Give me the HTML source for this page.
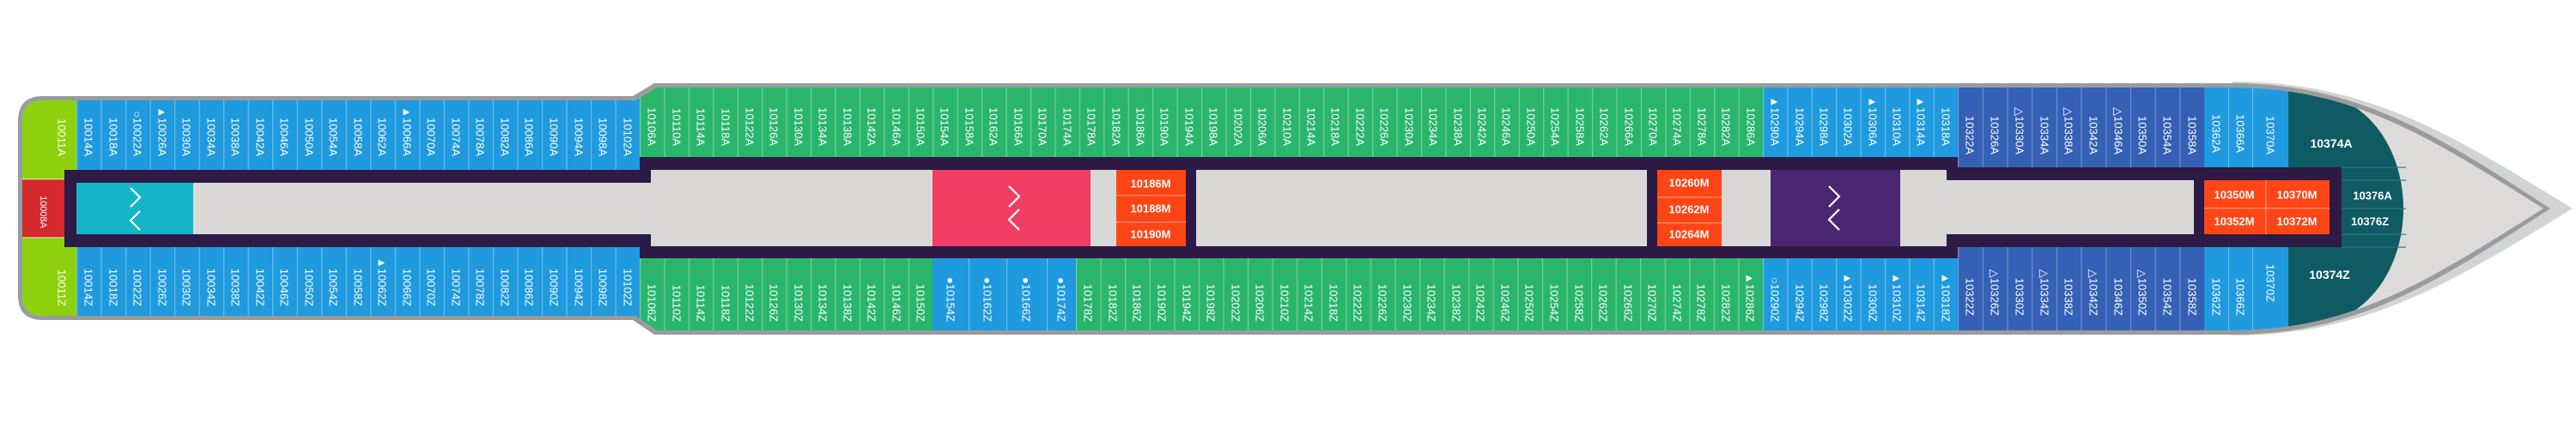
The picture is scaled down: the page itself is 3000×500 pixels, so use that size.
<!DOCTYPE html>
<html><head><meta charset="utf-8"><style>
html,body{margin:0;padding:0;background:#fff;}
svg{display:block;}
text{font-family:"Liberation Sans",sans-serif;fill:#fff;}
.v{font-size:13px;dominant-baseline:central;text-anchor:end;}
.o{font-size:13px;font-weight:bold;text-anchor:middle;dominant-baseline:central;}
</style></head><body>
<svg width="3000" height="500" viewBox="0 0 3000 500" xmlns="http://www.w3.org/2000/svg">
<defs>
<clipPath id="hc"><path d="M50,117 L740,117 L765,102 L2600,102 C2740,102 2830,160 2962,243 C2830,326 2740,385 2600,385 L765,385 L740,368 L50,368 Q26,368 26,344 L26,141 Q26,117 50,117 Z"/></clipPath>
<pattern id="p1" x="89" y="0" width="28.52" height="500" patternUnits="userSpaceOnUse"><rect x="0" y="0" width="1.2" height="500" fill="rgba(255,255,255,0.35)"/></pattern>
<pattern id="p2" x="745" y="0" width="28.435" height="500" patternUnits="userSpaceOnUse"><rect x="0" y="0" width="1.2" height="500" fill="rgba(255,255,255,0.35)"/></pattern>
<pattern id="p3" x="1253" y="0" width="28.571" height="500" patternUnits="userSpaceOnUse"><rect x="0" y="0" width="1.2" height="500" fill="rgba(255,255,255,0.35)"/></pattern>
<pattern id="p4" x="2053" y="0" width="28.375" height="500" patternUnits="userSpaceOnUse"><rect x="0" y="0" width="1.2" height="500" fill="rgba(255,255,255,0.35)"/></pattern>
<pattern id="p5" x="2280" y="0" width="28.7" height="500" patternUnits="userSpaceOnUse"><rect x="0" y="0" width="1.2" height="500" fill="rgba(255,255,255,0.3)"/></pattern>
</defs>
<!-- bow outer light -->
<path d="M2600,95 C2760,95 2860,160 2996,243 C2860,326 2760,391 2600,391 Z" fill="#d2d3d4"/>
<!-- hull outline -->
<path d="M50,112 L737,112 L762,97 L2600,97 C2745,97 2840,158 2970,243 C2840,328 2745,390 2600,390 L762,390 L737,373 L50,373 Q21,373 21,344 L21,141 Q21,112 50,112 Z" fill="#9a9b9d"/>
<path d="M50,117 L740,117 L765,102 L2600,102 C2740,102 2830,160 2962,243 C2830,326 2740,385 2600,385 L765,385 L740,368 L50,368 Q26,368 26,344 L26,141 Q26,117 50,117 Z" fill="#dcdbd9"/>
<g clip-path="url(#hc)">
<!-- lime + red stern -->
<rect x="20" y="110" width="69" height="99" fill="#8ed10e"/>
<rect x="20" y="277" width="69" height="100" fill="#8ed10e"/>
<rect x="20" y="209" width="55" height="68" fill="#d42a2e"/>
<rect x="20" y="208" width="60" height="1.5" fill="rgba(255,255,255,0.5)"/>
<rect x="20" y="276" width="60" height="1.5" fill="rgba(255,255,255,0.5)"/>
<!-- stern cabins -->
<rect x="89" y="110" width="656" height="88" fill="#1f9ade"/>
<rect x="89" y="288" width="656" height="85" fill="#1f9ade"/>
<rect x="89" y="110" width="656" height="88" fill="url(#p1)"/>
<rect x="89" y="288" width="656" height="85" fill="url(#p1)"/>
<!-- main top -->
<rect x="745" y="95" width="1308" height="88" fill="#2ab56d"/>
<rect x="745" y="95" width="1308" height="88" fill="url(#p2)"/>
<rect x="2053" y="95" width="227" height="88" fill="#1f9ade"/>
<rect x="2053" y="95" width="227" height="88" fill="url(#p4)"/>
<rect x="2280" y="95" width="287" height="100" fill="#3460b5"/>
<rect x="2280" y="95" width="287" height="100" fill="url(#p5)"/>
<rect x="2567" y="95" width="98" height="100" fill="#1f9ade"/>
<rect x="2595" y="95" width="1" height="100" fill="rgba(255,255,255,0.4)"/>
<rect x="2623" y="95" width="1" height="100" fill="rgba(255,255,255,0.4)"/>
<!-- main bottom -->
<rect x="745" y="301" width="341" height="92" fill="#2ab56d"/>
<rect x="745" y="301" width="341" height="92" fill="url(#p2)"/>
<rect x="1086" y="301" width="167" height="92" fill="#1f9ade"/>
<rect x="1128" y="301" width="1.2" height="92" fill="rgba(255,255,255,0.35)"/>
<rect x="1172" y="301" width="1.2" height="92" fill="rgba(255,255,255,0.35)"/>
<rect x="1219" y="301" width="1.2" height="92" fill="rgba(255,255,255,0.35)"/>
<rect x="1253" y="301" width="800" height="92" fill="#2ab56d"/>
<rect x="1253" y="301" width="800" height="92" fill="url(#p3)"/>
<rect x="2053" y="301" width="227" height="92" fill="#1f9ade"/>
<rect x="2053" y="301" width="227" height="92" fill="url(#p4)"/>
<rect x="2280" y="288" width="287" height="105" fill="#3460b5"/>
<rect x="2280" y="288" width="287" height="105" fill="url(#p5)"/>
<rect x="2567" y="288" width="98" height="105" fill="#1f9ade"/>
<rect x="2595" y="288" width="1" height="105" fill="rgba(255,255,255,0.4)"/>
<rect x="2623" y="288" width="1" height="105" fill="rgba(255,255,255,0.4)"/>
<!-- teal bow suite -->
<path d="M2665,100 Q2765,108 2792,195 Q2806,243 2792,291 Q2765,378 2665,388 Z" fill="#0f5a63"/>
<g fill="#2e7880"><rect x="2727" y="194.5" width="75" height="1.2"/><rect x="2727" y="209.5" width="75" height="1.2"/><rect x="2727" y="242.5" width="75" height="1.2"/><rect x="2727" y="272.5" width="75" height="1.2"/><rect x="2727" y="287.5" width="75" height="1.2"/></g>
</g>
<!-- corridors -->
<rect x="75" y="198" width="683" height="90" fill="#2d1a45"/>
<rect x="745" y="183" width="1535" height="118" fill="#2d1a45"/>
<rect x="2270" y="195" width="457" height="93" fill="#2d1a45"/>
<rect x="89" y="213" width="669" height="60" fill="#d9d8d6"/>
<rect x="758" y="198" width="328" height="89" fill="#d9d8d6"/>
<rect x="1270" y="198" width="30" height="89" fill="#d9d8d6"/>
<rect x="1393" y="198" width="525" height="89" fill="#d9d8d6"/>
<rect x="2005" y="198" width="57" height="89" fill="#d9d8d6"/>
<rect x="2213" y="198" width="54" height="89" fill="#d9d8d6"/>
<rect x="2213" y="210" width="342" height="63" fill="#d9d8d6"/>
<!-- stair blocks -->
<rect x="89" y="213" width="136" height="60" fill="#13b5c6"/>
<rect x="1086" y="198" width="184" height="89" fill="#ef3d63"/>
<rect x="2062" y="198" width="151" height="89" fill="#4b2673"/>
<g fill="none" stroke="#fff" stroke-width="2.2">
<polyline points="152,219 163,230 152,241"/><polyline points="163,246 152,257 163,268"/>
<polyline points="1175,217 1187,229 1175,241"/><polyline points="1187,244 1175,256 1187,268"/>
<polyline points="2130,217 2142,229 2130,241"/><polyline points="2142,244 2130,256 2142,268"/>
</g>
<!-- orange -->
<rect x="1300" y="198" width="81" height="89" fill="#fe4515"/>
<rect x="1300" y="227" width="81" height="1.5" fill="rgba(255,255,255,0.35)"/>
<rect x="1300" y="258" width="81" height="1.5" fill="rgba(255,255,255,0.35)"/>
<rect x="1930" y="198" width="75" height="89" fill="#fe4515"/>
<rect x="1930" y="229" width="75" height="1.5" fill="rgba(255,255,255,0.35)"/>
<rect x="1930" y="259" width="75" height="1.5" fill="rgba(255,255,255,0.35)"/>
<rect x="2567" y="210" width="146" height="63" fill="#fe4515"/>
<rect x="2567" y="242" width="146" height="1.5" fill="rgba(255,255,255,0.35)"/>
<rect x="2638" y="210" width="1.5" height="63" fill="rgba(255,255,255,0.35)"/>
<text class="o" x="1340" y="214">10186M</text><text class="o" x="1340" y="243">10188M</text><text class="o" x="1340" y="273">10190M</text>
<text class="o" x="1967" y="213">10260M</text><text class="o" x="1967" y="244">10262M</text><text class="o" x="1967" y="273">10264M</text>
<text class="o" x="2602" y="227">10350M</text><text class="o" x="2675" y="227">10370M</text>
<text class="o" x="2602" y="258">10352M</text><text class="o" x="2675" y="258">10372M</text>
<text class="o" x="2715" y="167" style="font-size:14px">10374A</text>
<text class="o" x="2713" y="320" style="font-size:14px">10374Z</text>
<text class="o" x="2763" y="228">10376A</text>
<text class="o" x="2760" y="258">10376Z</text>
<!-- vertical labels -->
<g class="v">
<text x="72" y="182" transform="rotate(90 72 182)">10011A</text>
<text x="72" y="357" transform="rotate(90 72 357)">10011Z</text>
<text x="50" y="266" transform="rotate(90 50 266)" style="font-size:11px">10008A</text>
<!-- stern top -->
<text x="103" y="182" transform="rotate(90 103 182)">10014A</text>
<text x="132" y="182" transform="rotate(90 132 182)">10018A</text>
<text x="160" y="182" transform="rotate(90 160 182)">○10022A</text>
<text x="189" y="182" transform="rotate(90 189 182)">▲10026A</text>
<text x="217" y="182" transform="rotate(90 217 182)">10030A</text>
<text x="246" y="182" transform="rotate(90 246 182)">10034A</text>
<text x="274" y="182" transform="rotate(90 274 182)">10038A</text>
<text x="303" y="182" transform="rotate(90 303 182)">10042A</text>
<text x="331" y="182" transform="rotate(90 331 182)">10046A</text>
<text x="360" y="182" transform="rotate(90 360 182)">10050A</text>
<text x="388" y="182" transform="rotate(90 388 182)">10054A</text>
<text x="417" y="182" transform="rotate(90 417 182)">10058A</text>
<text x="445" y="182" transform="rotate(90 445 182)">10062A</text>
<text x="474" y="182" transform="rotate(90 474 182)">▲10066A</text>
<text x="502" y="182" transform="rotate(90 502 182)">10070A</text>
<text x="531" y="182" transform="rotate(90 531 182)">10074A</text>
<text x="559" y="182" transform="rotate(90 559 182)">10078A</text>
<text x="588" y="182" transform="rotate(90 588 182)">10082A</text>
<text x="616" y="182" transform="rotate(90 616 182)">10086A</text>
<text x="645" y="182" transform="rotate(90 645 182)">10090A</text>
<text x="674" y="182" transform="rotate(90 674 182)">10094A</text>
<text x="702" y="182" transform="rotate(90 702 182)">10098A</text>
<text x="731" y="182" transform="rotate(90 731 182)">10102A</text>
<!-- stern bottom -->
<text x="103" y="357" transform="rotate(90 103 357)">10014Z</text>
<text x="132" y="357" transform="rotate(90 132 357)">10018Z</text>
<text x="160" y="357" transform="rotate(90 160 357)">10022Z</text>
<text x="189" y="357" transform="rotate(90 189 357)">10026Z</text>
<text x="217" y="357" transform="rotate(90 217 357)">10030Z</text>
<text x="246" y="357" transform="rotate(90 246 357)">10034Z</text>
<text x="274" y="357" transform="rotate(90 274 357)">10038Z</text>
<text x="303" y="357" transform="rotate(90 303 357)">10042Z</text>
<text x="331" y="357" transform="rotate(90 331 357)">10046Z</text>
<text x="360" y="357" transform="rotate(90 360 357)">10050Z</text>
<text x="388" y="357" transform="rotate(90 388 357)">10054Z</text>
<text x="417" y="357" transform="rotate(90 417 357)">10058Z</text>
<text x="445" y="357" transform="rotate(90 445 357)">▲10062Z</text>
<text x="474" y="357" transform="rotate(90 474 357)">10066Z</text>
<text x="502" y="357" transform="rotate(90 502 357)">10070Z</text>
<text x="531" y="357" transform="rotate(90 531 357)">10074Z</text>
<text x="559" y="357" transform="rotate(90 559 357)">10078Z</text>
<text x="588" y="357" transform="rotate(90 588 357)">10082Z</text>
<text x="616" y="357" transform="rotate(90 616 357)">10086Z</text>
<text x="645" y="357" transform="rotate(90 645 357)">10090Z</text>
<text x="674" y="357" transform="rotate(90 674 357)">10094Z</text>
<text x="702" y="357" transform="rotate(90 702 357)">10098Z</text>
<text x="731" y="357" transform="rotate(90 731 357)">10102Z</text>
<!-- main top -->
<text x="759" y="170" transform="rotate(90 759 170)">10106A</text>
<text x="788" y="170" transform="rotate(90 788 170)">10110A</text>
<text x="816" y="170" transform="rotate(90 816 170)">10114A</text>
<text x="845" y="170" transform="rotate(90 845 170)">10118A</text>
<text x="873" y="170" transform="rotate(90 873 170)">10122A</text>
<text x="901" y="170" transform="rotate(90 901 170)">10126A</text>
<text x="930" y="170" transform="rotate(90 930 170)">10130A</text>
<text x="958" y="170" transform="rotate(90 958 170)">10134A</text>
<text x="987" y="170" transform="rotate(90 987 170)">10138A</text>
<text x="1015" y="170" transform="rotate(90 1015 170)">10142A</text>
<text x="1044" y="170" transform="rotate(90 1044 170)">10146A</text>
<text x="1072" y="170" transform="rotate(90 1072 170)">10150A</text>
<text x="1100" y="170" transform="rotate(90 1100 170)">10154A</text>
<text x="1129" y="170" transform="rotate(90 1129 170)">10158A</text>
<text x="1157" y="170" transform="rotate(90 1157 170)">10162A</text>
<text x="1186" y="170" transform="rotate(90 1186 170)">10166A</text>
<text x="1214" y="170" transform="rotate(90 1214 170)">10170A</text>
<text x="1243" y="170" transform="rotate(90 1243 170)">10174A</text>
<text x="1271" y="170" transform="rotate(90 1271 170)">10178A</text>
<text x="1300" y="170" transform="rotate(90 1300 170)">10182A</text>
<text x="1328" y="170" transform="rotate(90 1328 170)">10186A</text>
<text x="1356" y="170" transform="rotate(90 1356 170)">10190A</text>
<text x="1385" y="170" transform="rotate(90 1385 170)">10194A</text>
<text x="1413" y="170" transform="rotate(90 1413 170)">10198A</text>
<text x="1442" y="170" transform="rotate(90 1442 170)">10202A</text>
<text x="1470" y="170" transform="rotate(90 1470 170)">10206A</text>
<text x="1499" y="170" transform="rotate(90 1499 170)">10210A</text>
<text x="1527" y="170" transform="rotate(90 1527 170)">10214A</text>
<text x="1555" y="170" transform="rotate(90 1555 170)">10218A</text>
<text x="1584" y="170" transform="rotate(90 1584 170)">10222A</text>
<text x="1612" y="170" transform="rotate(90 1612 170)">10226A</text>
<text x="1641" y="170" transform="rotate(90 1641 170)">10230A</text>
<text x="1669" y="170" transform="rotate(90 1669 170)">10234A</text>
<text x="1698" y="170" transform="rotate(90 1698 170)">10238A</text>
<text x="1726" y="170" transform="rotate(90 1726 170)">10242A</text>
<text x="1754" y="170" transform="rotate(90 1754 170)">10246A</text>
<text x="1783" y="170" transform="rotate(90 1783 170)">10250A</text>
<text x="1811" y="170" transform="rotate(90 1811 170)">10254A</text>
<text x="1840" y="170" transform="rotate(90 1840 170)">10258A</text>
<text x="1868" y="170" transform="rotate(90 1868 170)">10262A</text>
<text x="1897" y="170" transform="rotate(90 1897 170)">10266A</text>
<text x="1925" y="170" transform="rotate(90 1925 170)">10270A</text>
<text x="1953" y="170" transform="rotate(90 1953 170)">10274A</text>
<text x="1982" y="170" transform="rotate(90 1982 170)">10278A</text>
<text x="2010" y="170" transform="rotate(90 2010 170)">10282A</text>
<text x="2039" y="170" transform="rotate(90 2039 170)">10286A</text>
<text x="2067" y="170" transform="rotate(90 2067 170)">▲10290A</text>
<text x="2096" y="170" transform="rotate(90 2096 170)">10294A</text>
<text x="2124" y="170" transform="rotate(90 2124 170)">10298A</text>
<text x="2152" y="170" transform="rotate(90 2152 170)">10302A</text>
<text x="2181" y="170" transform="rotate(90 2181 170)">▲10306A</text>
<text x="2209" y="170" transform="rotate(90 2209 170)">10310A</text>
<text x="2237" y="170" transform="rotate(90 2237 170)">▲10314A</text>
<text x="2266" y="170" transform="rotate(90 2266 170)">10318A</text>
<text x="2294" y="180" transform="rotate(90 2294 180)">10322A</text>
<text x="2323" y="180" transform="rotate(90 2323 180)">10326A</text>
<text x="2352" y="180" transform="rotate(90 2352 180)">△10330A</text>
<text x="2381" y="180" transform="rotate(90 2381 180)">10334A</text>
<text x="2409" y="180" transform="rotate(90 2409 180)">△10338A</text>
<text x="2438" y="180" transform="rotate(90 2438 180)">10342A</text>
<text x="2467" y="180" transform="rotate(90 2467 180)">△10346A</text>
<text x="2495" y="180" transform="rotate(90 2495 180)">10350A</text>
<text x="2524" y="180" transform="rotate(90 2524 180)">10354A</text>
<text x="2553" y="180" transform="rotate(90 2553 180)">10358A</text>
<text x="2581" y="178" transform="rotate(90 2581 178)">10362A</text>
<text x="2609" y="178" transform="rotate(90 2609 178)">10366A</text>
<text x="2644" y="180" transform="rotate(90 2644 180)">10370A</text>
<!-- main bottom -->
<text x="759" y="375" transform="rotate(90 759 375)">10106Z</text>
<text x="788" y="375" transform="rotate(90 788 375)">10110Z</text>
<text x="816" y="375" transform="rotate(90 816 375)">10114Z</text>
<text x="845" y="375" transform="rotate(90 845 375)">10118Z</text>
<text x="873" y="375" transform="rotate(90 873 375)">10122Z</text>
<text x="901" y="375" transform="rotate(90 901 375)">10126Z</text>
<text x="930" y="375" transform="rotate(90 930 375)">10130Z</text>
<text x="958" y="375" transform="rotate(90 958 375)">10134Z</text>
<text x="987" y="375" transform="rotate(90 987 375)">10138Z</text>
<text x="1015" y="375" transform="rotate(90 1015 375)">10142Z</text>
<text x="1044" y="375" transform="rotate(90 1044 375)">10146Z</text>
<text x="1072" y="375" transform="rotate(90 1072 375)">10150Z</text>
<text x="1107" y="375" transform="rotate(90 1107 375)">●10154Z</text>
<text x="1150" y="375" transform="rotate(90 1150 375)">●10162Z</text>
<text x="1195" y="375" transform="rotate(90 1195 375)">●10166Z</text>
<text x="1236" y="375" transform="rotate(90 1236 375)">●10174Z</text>
<text x="1267" y="375" transform="rotate(90 1267 375)">10178Z</text>
<text x="1296" y="375" transform="rotate(90 1296 375)">10182Z</text>
<text x="1324" y="375" transform="rotate(90 1324 375)">10186Z</text>
<text x="1353" y="375" transform="rotate(90 1353 375)">10190Z</text>
<text x="1382" y="375" transform="rotate(90 1382 375)">10194Z</text>
<text x="1410" y="375" transform="rotate(90 1410 375)">10198Z</text>
<text x="1439" y="375" transform="rotate(90 1439 375)">10202Z</text>
<text x="1467" y="375" transform="rotate(90 1467 375)">10206Z</text>
<text x="1496" y="375" transform="rotate(90 1496 375)">10210Z</text>
<text x="1524" y="375" transform="rotate(90 1524 375)">10214Z</text>
<text x="1553" y="375" transform="rotate(90 1553 375)">10218Z</text>
<text x="1581" y="375" transform="rotate(90 1581 375)">10222Z</text>
<text x="1610" y="375" transform="rotate(90 1610 375)">10226Z</text>
<text x="1639" y="375" transform="rotate(90 1639 375)">10230Z</text>
<text x="1667" y="375" transform="rotate(90 1667 375)">10234Z</text>
<text x="1696" y="375" transform="rotate(90 1696 375)">10238Z</text>
<text x="1724" y="375" transform="rotate(90 1724 375)">10242Z</text>
<text x="1753" y="375" transform="rotate(90 1753 375)">10246Z</text>
<text x="1781" y="375" transform="rotate(90 1781 375)">10250Z</text>
<text x="1810" y="375" transform="rotate(90 1810 375)">10254Z</text>
<text x="1839" y="375" transform="rotate(90 1839 375)">10258Z</text>
<text x="1867" y="375" transform="rotate(90 1867 375)">10262Z</text>
<text x="1896" y="375" transform="rotate(90 1896 375)">10266Z</text>
<text x="1924" y="375" transform="rotate(90 1924 375)">10270Z</text>
<text x="1953" y="375" transform="rotate(90 1953 375)">10274Z</text>
<text x="1981" y="375" transform="rotate(90 1981 375)">10278Z</text>
<text x="2010" y="375" transform="rotate(90 2010 375)">10282Z</text>
<text x="2038" y="375" transform="rotate(90 2038 375)">▲10286Z</text>
<text x="2067" y="375" transform="rotate(90 2067 375)">○10290Z</text>
<text x="2096" y="375" transform="rotate(90 2096 375)">10294Z</text>
<text x="2124" y="375" transform="rotate(90 2124 375)">10298Z</text>
<text x="2152" y="375" transform="rotate(90 2152 375)">▲10302Z</text>
<text x="2181" y="375" transform="rotate(90 2181 375)">10306Z</text>
<text x="2209" y="375" transform="rotate(90 2209 375)">▲10310Z</text>
<text x="2237" y="375" transform="rotate(90 2237 375)">10314Z</text>
<text x="2266" y="375" transform="rotate(90 2266 375)">▲10318Z</text>
<text x="2294" y="368" transform="rotate(90 2294 368)">10322Z</text>
<text x="2323" y="368" transform="rotate(90 2323 368)">△10326Z</text>
<text x="2352" y="368" transform="rotate(90 2352 368)">10330Z</text>
<text x="2381" y="368" transform="rotate(90 2381 368)">△10334Z</text>
<text x="2409" y="368" transform="rotate(90 2409 368)">10338Z</text>
<text x="2438" y="368" transform="rotate(90 2438 368)">△10342Z</text>
<text x="2467" y="368" transform="rotate(90 2467 368)">10346Z</text>
<text x="2495" y="368" transform="rotate(90 2495 368)">△10350Z</text>
<text x="2524" y="368" transform="rotate(90 2524 368)">10354Z</text>
<text x="2553" y="368" transform="rotate(90 2553 368)">10358Z</text>
<text x="2581" y="368" transform="rotate(90 2581 368)">10362Z</text>
<text x="2609" y="368" transform="rotate(90 2609 368)">10366Z</text>
<text x="2644" y="352" transform="rotate(90 2644 352)">10370Z</text>
</g>
</svg>
</body></html>
